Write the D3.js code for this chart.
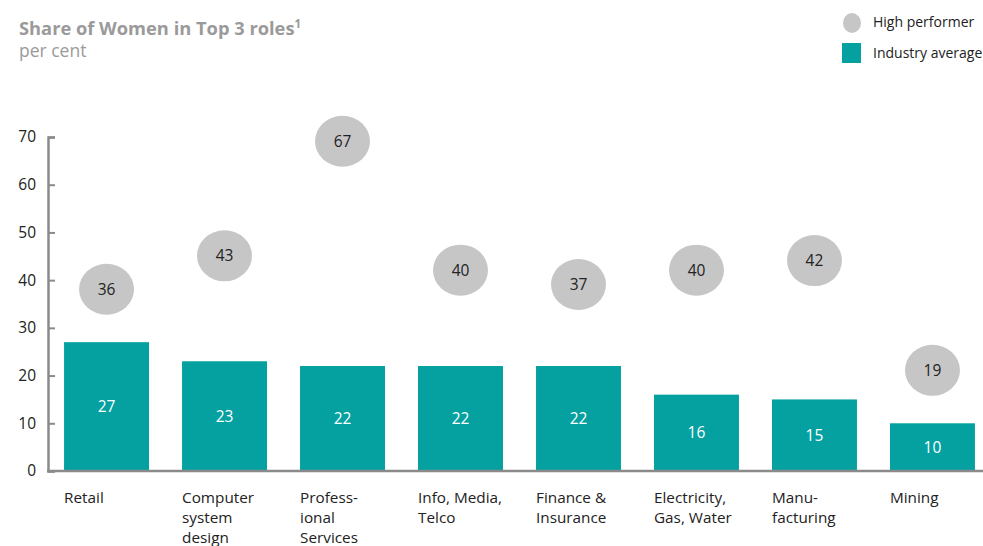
<!DOCTYPE html>
<html>
<head>
<meta charset="utf-8">
<script src="https://cdn.jsdelivr.net/npm/d3@7/dist/d3.min.js"></script>
<style>
  html, body { margin: 0; padding: 0; background: #fff; }
  svg { display: block; font-family: "Open Sans", "Noto Sans", sans-serif; }
</style>
</head>
<body>
<svg id="chart"></svg>
<script>
const industries = [
  ["Retail"],
  ["Computer", "system", "design"],
  ["Profess-", "ional", "Services"],
  ["Info, Media,", "Telco"],
  ["Finance &", "Insurance"],
  ["Electricity,", "Gas, Water"],
  ["Manu-", "facturing"],
  ["Mining"],
];
const industryAverage = [27, 23, 22, 22, 22, 16, 15, 10];
const highPerformer = [36, 43, 67, 40, 37, 40, 42, 19];
const yTicks = [0, 10, 20, 30, 40, 50, 60, 70];

const width = 983;
const height = 546;
const teal = "#05a1a1";
const bubbleGray = "#c6c6c6";
const axisGray = "#8a8a8a";

const svg = d3.select("#chart").attr("width", width).attr("height", height);

const keys = industries.map((d, i) => i);
const x = d3.scaleBand().domain(keys).range([48, 991]).paddingInner(0.28).paddingOuter(0.136);
const y = d3.scaleLinear().domain([0, 70]).range([471, 137]);

// ── Title ──
const title = svg.append("text")
  .attr("x", 19).attr("y", 35)
  .attr("font-size", 18.3).attr("font-weight", "bold").attr("fill", "#9a9a9a");
title.append("tspan").text("Share of Women in Top 3 roles");
title.append("tspan").attr("font-size", 11.5).attr("dy", -7).text("1");

svg.append("text")
  .attr("x", 19).attr("y", 57)
  .attr("font-size", 17.5).attr("fill", "#9a9a9a")
  .text("per cent");

// ── Legend ──
const legend = svg.append("g");
legend.append("ellipse").attr("cx", 852).attr("cy", 23).attr("rx", 9).attr("ry", 10).attr("fill", bubbleGray);
legend.append("text").attr("x", 873).attr("y", 27).attr("font-size", 14).attr("fill", "#222").text("High performer");
legend.append("rect").attr("x", 842).attr("y", 43).attr("width", 19).attr("height", 20).attr("fill", teal);
legend.append("text").attr("x", 873).attr("y", 58).attr("font-size", 14).attr("fill", "#222").text("Industry average");

// ── Bars ──
svg.append("g").selectAll("rect")
  .data(industryAverage)
  .join("rect")
  .attr("x", (d, i) => x(i))
  .attr("width", x.bandwidth())
  .attr("y", (d) => y(d))
  .attr("height", (d) => y(0) - y(d))
  .attr("fill", teal);

svg.append("g").selectAll("text")
  .data(industryAverage)
  .join("text")
  .attr("x", (d, i) => x(i) + x.bandwidth() / 2)
  .attr("y", (d) => (y(d) + y(0)) / 2)
  .attr("dy", "0.35em")
  .attr("text-anchor", "middle")
  .attr("font-size", 15.5)
  .attr("fill", "#fff")
  .text((d) => d);

// ── Bubbles ──
const bubbles = svg.append("g").selectAll("g")
  .data(highPerformer)
  .join("g")
  .attr("transform", (d, i) => `translate(${x(i) + x.bandwidth() / 2},${y(d) - 10})`);

bubbles.append("ellipse").attr("rx", 27.5).attr("ry", 25.5).attr("fill", bubbleGray);
bubbles.append("text")
  .attr("dy", "0.35em")
  .attr("text-anchor", "middle")
  .attr("font-size", 15.5)
  .attr("fill", "#222")
  .text((d) => d);

// ── Axes ──
const yAxis = svg.append("g")
  .attr("transform", "translate(48,0)")
  .call(d3.axisLeft(y).tickValues(yTicks).tickSize(-7).tickPadding(12));
yAxis.select(".domain").attr("stroke", axisGray).attr("stroke-width", 2.5);
yAxis.selectAll(".tick line").attr("stroke", axisGray).attr("stroke-width", 2);
yAxis.selectAll(".tick text").attr("font-size", 15.5).attr("fill", "#222")
  .attr("font-family", "\"Open Sans\", \"Noto Sans\", sans-serif");

svg.append("line")
  .attr("x1", 47).attr("x2", width)
  .attr("y1", y(0)).attr("y2", y(0))
  .attr("stroke", axisGray).attr("stroke-width", 2.5);

// ── Category labels ──
svg.append("g").selectAll("text")
  .data(industries)
  .join("text")
  .attr("x", (d, i) => x(i))
  .attr("y", 503)
  .attr("font-size", 15.3)
  .attr("fill", "#222")
  .each(function (lines) {
    d3.select(this).selectAll("tspan")
      .data(lines)
      .join("tspan")
      .attr("x", d3.select(this).attr("x"))
      .attr("dy", (l, j) => (j === 0 ? 0 : 20))
      .text((l) => l);
  });
</script>
</body>
</html>
